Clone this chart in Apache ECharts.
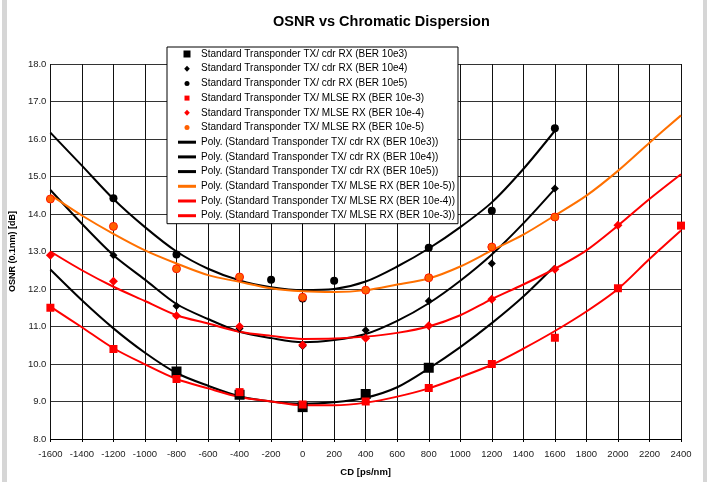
<!DOCTYPE html>
<html>
<head>
<meta charset="utf-8">
<script src="https://cdn.jsdelivr.net/npm/echarts@6/dist/echarts.min.js"></script>
<style>
  html, body { margin: 0; padding: 0; background: #fff; }
  #chart { width: 710px; height: 482px; }
</style>
</head>
<body>
<div id="chart"></div>
<script>
// measured points
const cdr3X = [-800, -400, 0, 400, 800]
const cdr3Y = [9.8, 9.18, 8.85, 9.2, 9.9]
const cdr4X = [-1200, -800, -400, 0, 400, 800, 1200, 1600]
const cdr4Y = [12.9, 11.55, 10.95, 10.48, 10.9, 11.68, 12.68, 14.68]
const cdr5X = [-1200, -800, -200, 0, 200, 800, 1200, 1600]
const cdr5Y = [14.42, 12.92, 12.25, 11.75, 12.22, 13.1, 14.09, 16.29]
const mlse3X = [-1600, -1200, -800, -400, 0, 400, 800, 1200, 1600, 2000, 2400]
const mlse3Y = [11.5, 10.4, 9.6, 9.25, 8.92, 9.0, 9.36, 10.0, 10.7, 12.02, 13.69]
const mlse4X = [-1600, -1200, -800, -400, 0, 400, 800, 1200, 1600, 2000]
const mlse4Y = [12.9, 12.21, 11.29, 11.0, 10.51, 10.69, 11.02, 11.73, 12.53, 13.7]
const mlse5X = [-1600, -1200, -800, -400, 0, 400, 800, 1200, 1600]
const mlse5Y = [14.4, 13.67, 12.54, 12.32, 11.78, 11.97, 12.3, 13.12, 13.92]

// trendlines, every 200 ps/nm
const polyCdrX = [-1600, -1400, -1200, -1000, -800, -600, -400, -200, 0, 200, 400, 600, 800, 1000, 1200, 1400, 1600]
const polyCdr3Y = [12.52, 11.7, 10.95, 10.3, 9.76, 9.42, 9.14, 9.0, 8.94, 8.98, 9.1, 9.38, 9.88, 10.45, 11.09, 11.8, 12.62]
const polyCdr4Y = [14.64, 13.74, 12.9, 12.25, 11.6, 11.2, 10.86, 10.69, 10.58, 10.64, 10.8, 11.15, 11.62, 12.22, 12.92, 13.75, 14.67]
const polyCdr5Y = [16.17, 15.29, 14.4, 13.65, 13.0, 12.54, 12.23, 12.05, 11.97, 12.0, 12.2, 12.6, 13.08, 13.65, 14.31, 15.2, 16.22]
const polyMlseX = [-1600, -1400, -1200, -1000, -800, -600, -400, -200, 0, 200, 400, 600, 800, 1000, 1200, 1400, 1600, 1800, 2000, 2200, 2400]
const polyMlse5Y = [14.51, 13.96, 13.47, 13.03, 12.68, 12.37, 12.19, 12.02, 11.94, 11.92, 11.97, 12.12, 12.28, 12.6, 13.03, 13.45, 13.96, 14.49, 15.15, 15.9, 16.63]
const polyMlse4Y = [13.0, 12.5, 12.06, 11.68, 11.3, 11.08, 10.86, 10.75, 10.67, 10.68, 10.73, 10.83, 11.0, 11.3, 11.73, 12.12, 12.54, 13.03, 13.69, 14.4, 15.06]
const polyMlse3Y = [11.53, 10.98, 10.42, 9.99, 9.6, 9.35, 9.12, 9.0, 8.9, 8.9, 8.97, 9.13, 9.35, 9.65, 9.98, 10.41, 10.88, 11.4, 12.0, 12.8, 13.56]

const pairs = (xs, ys) => xs.map((x, i) => [x, ys[i]])

const font = 'Arial, "Liberation Sans", sans-serif'

// legend icons, drawn in an 18x7 box (the leading M points fix the box)
const box = 'path://M0,0M18,7'
const iconSquareBig = box + 'M5.5,0H12.5V7H5.5Z'
const iconSquare = box + 'M6.5,1H11.5V6H6.5Z'
const iconDiamond = box + 'M9,0.5L11.8,3.5L9,6.5L6.2,3.5Z'
const iconCircle = box + 'M9,1A2.5,2.5,0,1,1,9,6A2.5,2.5,0,1,1,9,1Z'
const iconLine = box + 'M0,2H18V5H0Z'

function dots(name, xs, ys, symbol, size, color, border) {
  return {
    name: name,
    type: 'scatter',
    symbol: symbol,
    symbolSize: size,
    data: pairs(xs, ys),
    itemStyle: { color: color, borderColor: border || color, borderWidth: border ? 1 : 0, opacity: 1 },
    z: 5,
    silent: true
  }
}

function poly(name, xs, ys, color) {
  return {
    name: name,
    type: 'line',
    symbol: 'none',
    smooth: 0.3,
    data: pairs(xs, ys),
    lineStyle: { color: color, width: 2 },
    itemStyle: { color: color },
    z: 3,
    silent: true
  }
}

const series = [
  dots('Standard Transponder TX/ cdr RX (BER 10e3)', cdr3X, cdr3Y, 'rect', 10, '#000'),
  dots('Standard Transponder TX/ cdr RX (BER 10e4)', cdr4X, cdr4Y, 'diamond', 8, '#000'),
  dots('Standard Transponder TX/ cdr RX (BER 10e5)', cdr5X, cdr5Y, 'circle', 8, '#000'),
  dots('Standard Transponder TX/ MLSE RX (BER 10e-3)', mlse3X, mlse3Y, 'rect', 8, '#ff0000'),
  dots('Standard Transponder TX/ MLSE RX (BER 10e-4)', mlse4X, mlse4Y, 'diamond', 9, '#ff0000'),
  dots('Standard Transponder TX/ MLSE RX (BER 10e-5)', mlse5X, mlse5Y, 'circle', 8, '#ff6000', '#ff1a00'),
  poly('Poly. (Standard Transponder TX/ cdr RX (BER 10e3))', polyCdrX, polyCdr3Y, '#000'),
  poly('Poly. (Standard Transponder TX/ cdr RX (BER 10e4))', polyCdrX, polyCdr4Y, '#000'),
  poly('Poly. (Standard Transponder TX/ cdr RX (BER 10e5))', polyCdrX, polyCdr5Y, '#000'),
  poly('Poly. (Standard Transponder TX/ MLSE RX (BER 10e-5))', polyMlseX, polyMlse5Y, '#ff7000'),
  poly('Poly. (Standard Transponder TX/ MLSE RX (BER 10e-4))', polyMlseX, polyMlse4Y, '#ff0000'),
  poly('Poly. (Standard Transponder TX/ MLSE RX (BER 10e-3))', polyMlseX, polyMlse3Y, '#ff0000')
]
const legendIcons = [iconSquareBig, iconDiamond, iconCircle, iconSquare, iconDiamond, iconCircle,
  iconLine, iconLine, iconLine, iconLine, iconLine, iconLine]

const chart = echarts.init(document.getElementById('chart'), null, { renderer: 'canvas' })
chart.setOption({
  animation: false,
  backgroundColor: '#fff',
  title: {
    text: 'OSNR vs Chromatic Dispersion',
    left: 273,
    top: 14,
    padding: 0,
    textStyle: { fontFamily: font, fontSize: 14.5, fontWeight: 'bold', color: '#000' }
  },
  legend: {
    orient: 'vertical',
    left: 167,
    top: 47,
    padding: [1, 3, 2, 11],
    itemWidth: 18,
    itemHeight: 7,
    itemGap: 2.7,
    backgroundColor: '#fff',
    borderColor: '#000',
    borderWidth: 1,
    selectedMode: false,
    data: series.map((s, i) => ({ name: s.name, icon: legendIcons[i], itemStyle: { borderWidth: 0 } })),
    textStyle: { fontFamily: font, fontSize: 10, color: '#000', lineHeight: 12 },
    z: 10
  },
  graphic: [
    { type: 'rect', shape: { x: 2, y: 0, width: 5, height: 482 }, style: { fill: '#d6d6d6' }, silent: true },
    { type: 'rect', shape: { x: 703, y: 0, width: 4, height: 482 }, style: { fill: '#d6d6d6' }, silent: true }
  ],
  grid: { left: 49, right: 29, top: 64, bottom: 40 },
  xAxis: {
    type: 'value',
    min: -1600,
    max: 2400,
    interval: 200,
    name: 'CD [ps/nm]',
    nameLocation: 'middle',
    nameGap: 28,
    nameTextStyle: { fontFamily: font, fontSize: 9.5, fontWeight: 'bold', color: '#000' },
    axisLine: { lineStyle: { color: '#000', width: 1 } },
    axisTick: { show: true, length: 3, lineStyle: { color: '#000' } },
    axisLabel: { fontFamily: font, fontSize: 9.5, color: '#222', margin: 10, formatter: v => String(v) },
    splitLine: { show: true, lineStyle: { color: '#111', width: 1 } }
  },
  yAxis: {
    type: 'value',
    min: 8,
    max: 18,
    interval: 1,
    name: 'OSNR (0.1nm) [dB]',
    nameLocation: 'middle',
    nameRotate: 90,
    nameGap: 28,
    nameTextStyle: { fontFamily: font, fontSize: 9, fontWeight: 'bold', color: '#000' },
    axisLine: { show: true, lineStyle: { color: '#000', width: 1 } },
    axisTick: { show: true, length: 3, lineStyle: { color: '#000' } },
    axisLabel: { fontFamily: font, fontSize: 9.5, color: '#222', margin: 4, formatter: v => v.toFixed(1) },
    splitLine: { show: true, lineStyle: { color: '#333', width: 1 } }
  },
  series: series
})
</script>
</body>
</html>
